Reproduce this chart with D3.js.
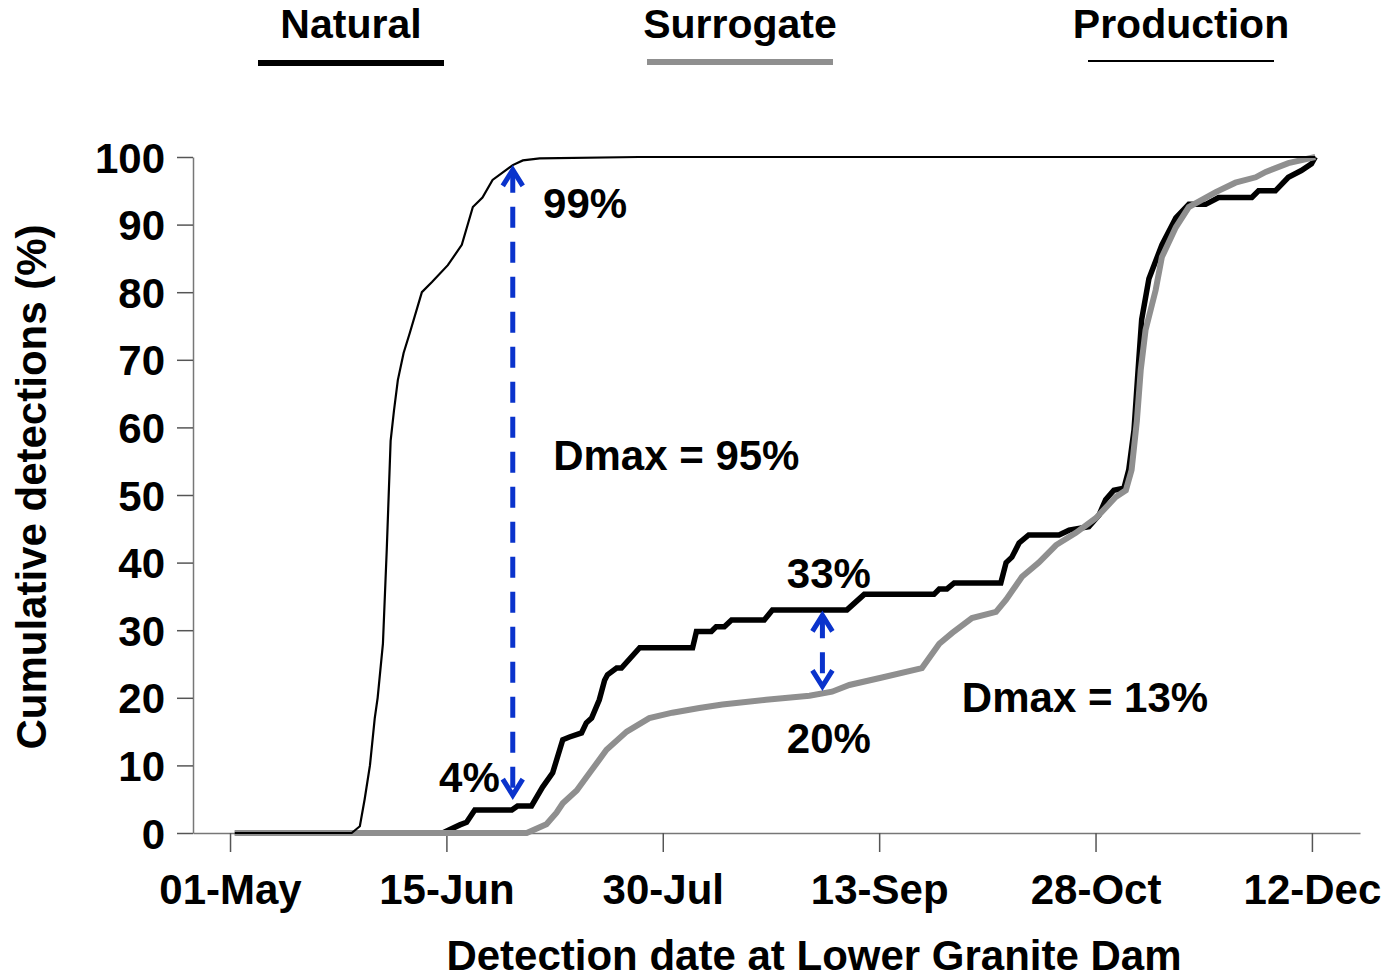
<!DOCTYPE html>
<html>
<head>
<meta charset="utf-8">
<script src="https://cdn.jsdelivr.net/npm/d3@7"></script>
<style>
  body { margin: 0; background: #fff; }
  text { font-family: "Liberation Sans", Arial, sans-serif; font-weight: bold; fill: #000; }
</style>
</head>
<body>
<div id="wrapper"></div>
<script>
// days counted from 01-May
const tickDays = [0, 45, 90, 135, 180, 225];
const tickLabels = ["01-May", "15-Jun", "30-Jul", "13-Sep", "28-Oct", "12-Dec"];
const yTicks = [0, 10, 20, 30, 40, 50, 60, 70, 80, 90, 100];

// thick black line
const natural = [
  [1, 0], [44.2, 0], [47.8, 1.2], [49.2, 1.6], [50.9, 3.4], [58.6, 3.4], [59.8, 4.0],
  [62.7, 4.0], [65.0, 6.8], [67.1, 8.9], [69.2, 13.8], [70.6, 14.2], [73.1, 14.8],
  [74.1, 16.3], [75.2, 17], [76.8, 19.7], [77.9, 22.6], [78.5, 23.4], [80.4, 24.4],
  [81.4, 24.4], [85.2, 27.4], [96.2, 27.4], [97.0, 29.8], [100.1, 29.8], [101.1, 30.5],
  [102.8, 30.5], [104.3, 31.5], [111.1, 31.5], [112.8, 33], [128.3, 33], [131.9, 35.3],
  [146.4, 35.3], [147.5, 36.1], [149.1, 36.1], [150.6, 37], [160.3, 37], [161.4, 40],
  [162.6, 40.8], [164.1, 42.9], [166.1, 44.1], [172.4, 44.1], [174.5, 44.8], [178.6, 45.3],
  [180.7, 47], [182.1, 49.3], [183.8, 50.7], [185.9, 51], [186.9, 53.7], [188.0, 59.6],
  [189.0, 70], [189.6, 76], [191.1, 82], [193.8, 87], [196.7, 91], [199.4, 93],
  [202.9, 93], [205.6, 94], [212.5, 94], [213.9, 95], [217.4, 95], [220.1, 97],
  [222.8, 98], [224.9, 99], [225.7, 100]
];

// grey line
const surrogate = [
  [1, 0], [61.7, 0], [65.8, 1.3], [67.9, 3], [69.2, 4.4], [72.1, 6.3], [74.8, 8.9],
  [78.3, 12.3], [82.5, 15], [87.2, 17], [92.0, 17.8], [97.6, 18.5], [102.4, 19],
  [111.5, 19.7], [120.5, 20.3], [125.2, 20.9], [128.8, 21.9], [135.6, 23], [143.9, 24.4],
  [147.5, 28], [150.2, 29.6], [154.3, 31.8], [159.3, 32.7], [161.4, 34.5], [164.7, 37.9],
  [168.2, 40], [171.8, 42.6], [175.9, 44.4], [180.1, 46.6], [184.2, 49.7], [186.3, 50.7],
  [187.5, 53.7], [188.6, 61], [189.4, 68.5], [190.4, 74.4], [192.5, 80.3], [193.8, 85.2],
  [196.7, 89.6], [199.4, 92.6], [205.0, 94.8], [209.1, 96.2], [213.3, 97], [215.4, 97.8],
  [220.1, 99.1], [225.7, 100]
];

// thin black line
const production = [
  [1, 0], [25.3, 0], [27.0, 1], [28.0, 5], [29.1, 10], [30.1, 17], [30.7, 20],
  [31.8, 28], [32.6, 42], [33.4, 58], [34.1, 62.5], [34.9, 67], [36.1, 71], [37.4, 74],
  [39.9, 80], [42.0, 81.5], [45.3, 84], [48.2, 87], [50.5, 92.6], [52.5, 94],
  [54.6, 96.6], [58.8, 98.8], [60.9, 99.5], [64.4, 99.8], [85, 100], [225.7, 100]
];

// Dmax arrows: day, bottom %, top %
const dmaxArrows = [
  { day: 58.8, low: 5.3, high: 98.4 },
  { day: 123.2, low: 21.4, high: 32.5 }
];

// annotation texts: day, % (baseline), anchor
const notes = [
  { text: "99%", day: 65.1, pct: 91.0, anchor: "start" },
  { text: "Dmax = 95%", day: 67.2, pct: 53.7, anchor: "start" },
  { text: "4%", day: 56.1, pct: 6.1, anchor: "end" },
  { text: "33%", day: 115.8, pct: 36.2, anchor: "start" },
  { text: "20%", day: 115.8, pct: 11.8, anchor: "start" },
  { text: "Dmax = 13%", day: 152.2, pct: 17.9, anchor: "start" }
];

const legendNames = ["Natural", "Surrogate", "Production"];
const legendColors = ["#000", "#8f8f8f", "#000"];
const legendWidths = [6, 6, 2];

const width = 1389, height = 980;
const margin = { top: 157, right: 29, bottom: 147, left: 193 };

const svg = d3.select("#wrapper")
  .append("svg")
  .attr("width", width)
  .attr("height", height);

const x = d3.scaleLinear()
  .domain([-7.7, 235])
  .range([margin.left, width - margin.right]);

const y = d3.scaleLinear()
  .domain([0, 100])
  .range([height - margin.bottom, margin.top]);

// axes
const xAxis = svg.append("g")
  .attr("transform", `translate(0,${height - margin.bottom})`)
  .call(d3.axisBottom(x)
    .tickValues(tickDays)
    .tickFormat((d, i) => tickLabels[i])
    .tickSize(19)
    .tickSizeOuter(0)
    .tickPadding(22));

const yAxis = svg.append("g")
  .attr("transform", `translate(${margin.left},0)`)
  .call(d3.axisLeft(y)
    .tickValues(yTicks)
    .tickSize(16)
    .tickSizeOuter(0)
    .tickPadding(12));

[xAxis, yAxis].forEach(g => {
  g.select(".domain").attr("stroke", "#777").attr("stroke-width", 1.5);
  g.selectAll(".tick line").attr("stroke", "#555").attr("stroke-width", 1.5);
  g.selectAll(".tick text")
    .attr("fill", "#000")
    .style("font-size", "42px")
    .style("font-family", "'Liberation Sans', Arial, sans-serif")
    .style("font-weight", "bold");
});
yAxis.selectAll(".tick text").attr("dy", "0.36em");

// axis titles
svg.append("text")
  .attr("x", 814)
  .attr("y", 970)
  .attr("text-anchor", "middle")
  .style("font-size", "42px")
  .text("Detection date at Lower Granite Dam");

svg.append("text")
  .attr("transform", "translate(46,487) rotate(-90)")
  .attr("text-anchor", "middle")
  .style("font-size", "42px")
  .text("Cumulative detections (%)");

// lines
const line = d3.line()
  .x(d => x(d[0]))
  .y(d => y(d[1]));

svg.append("path")
  .datum(natural)
  .attr("fill", "none")
  .attr("stroke", "#000")
  .attr("stroke-width", 5.5)
  .attr("d", line);

svg.append("path")
  .datum(surrogate)
  .attr("fill", "none")
  .attr("stroke", "#8f8f8f")
  .attr("stroke-width", 6)
  .attr("d", line);

svg.append("path")
  .datum(production)
  .attr("fill", "none")
  .attr("stroke", "#000")
  .attr("stroke-width", 2.2)
  .attr("d", line);

// Dmax arrows
const blue = "#0a33cc";
const arrows = svg.append("g");
dmaxArrows.forEach(a => {
  const ax = x(a.day), yTop = y(a.high), yBot = y(a.low);
  arrows.append("line")
    .attr("x1", ax).attr("x2", ax)
    .attr("y1", yTop + 4).attr("y2", yBot - 4)
    .attr("stroke", blue)
    .attr("stroke-width", 5)
    .attr("stroke-dasharray", "21,14");
  arrows.append("path")
    .attr("d", `M${ax - 10},${yTop + 18}L${ax},${yTop + 2}L${ax + 10},${yTop + 18}`)
    .attr("fill", "none").attr("stroke", blue).attr("stroke-width", 5);
  arrows.append("path")
    .attr("d", `M${ax - 10},${yBot - 18}L${ax},${yBot - 2}L${ax + 10},${yBot - 18}`)
    .attr("fill", "none").attr("stroke", blue).attr("stroke-width", 5);
});

// notes
svg.append("g")
  .selectAll("text")
  .data(notes)
  .enter()
  .append("text")
  .attr("x", d => x(d.day))
  .attr("y", d => y(d.pct))
  .attr("text-anchor", d => d.anchor)
  .style("font-size", "42px")
  .text(d => d.text);

// legend
const legendX = [351, 740, 1181];
const legendLineY = [63, 62, 61];
const legend = svg.append("g");
legendNames.forEach((name, i) => {
  legend.append("text")
    .attr("x", legendX[i])
    .attr("y", 38)
    .attr("text-anchor", "middle")
    .style("font-size", "41px")
    .text(name);
  legend.append("line")
    .attr("x1", legendX[i] - 93).attr("x2", legendX[i] + 93)
    .attr("y1", legendLineY[i]).attr("y2", legendLineY[i])
    .attr("stroke", legendColors[i])
    .attr("stroke-width", legendWidths[i]);
});
</script>
</body>
</html>
